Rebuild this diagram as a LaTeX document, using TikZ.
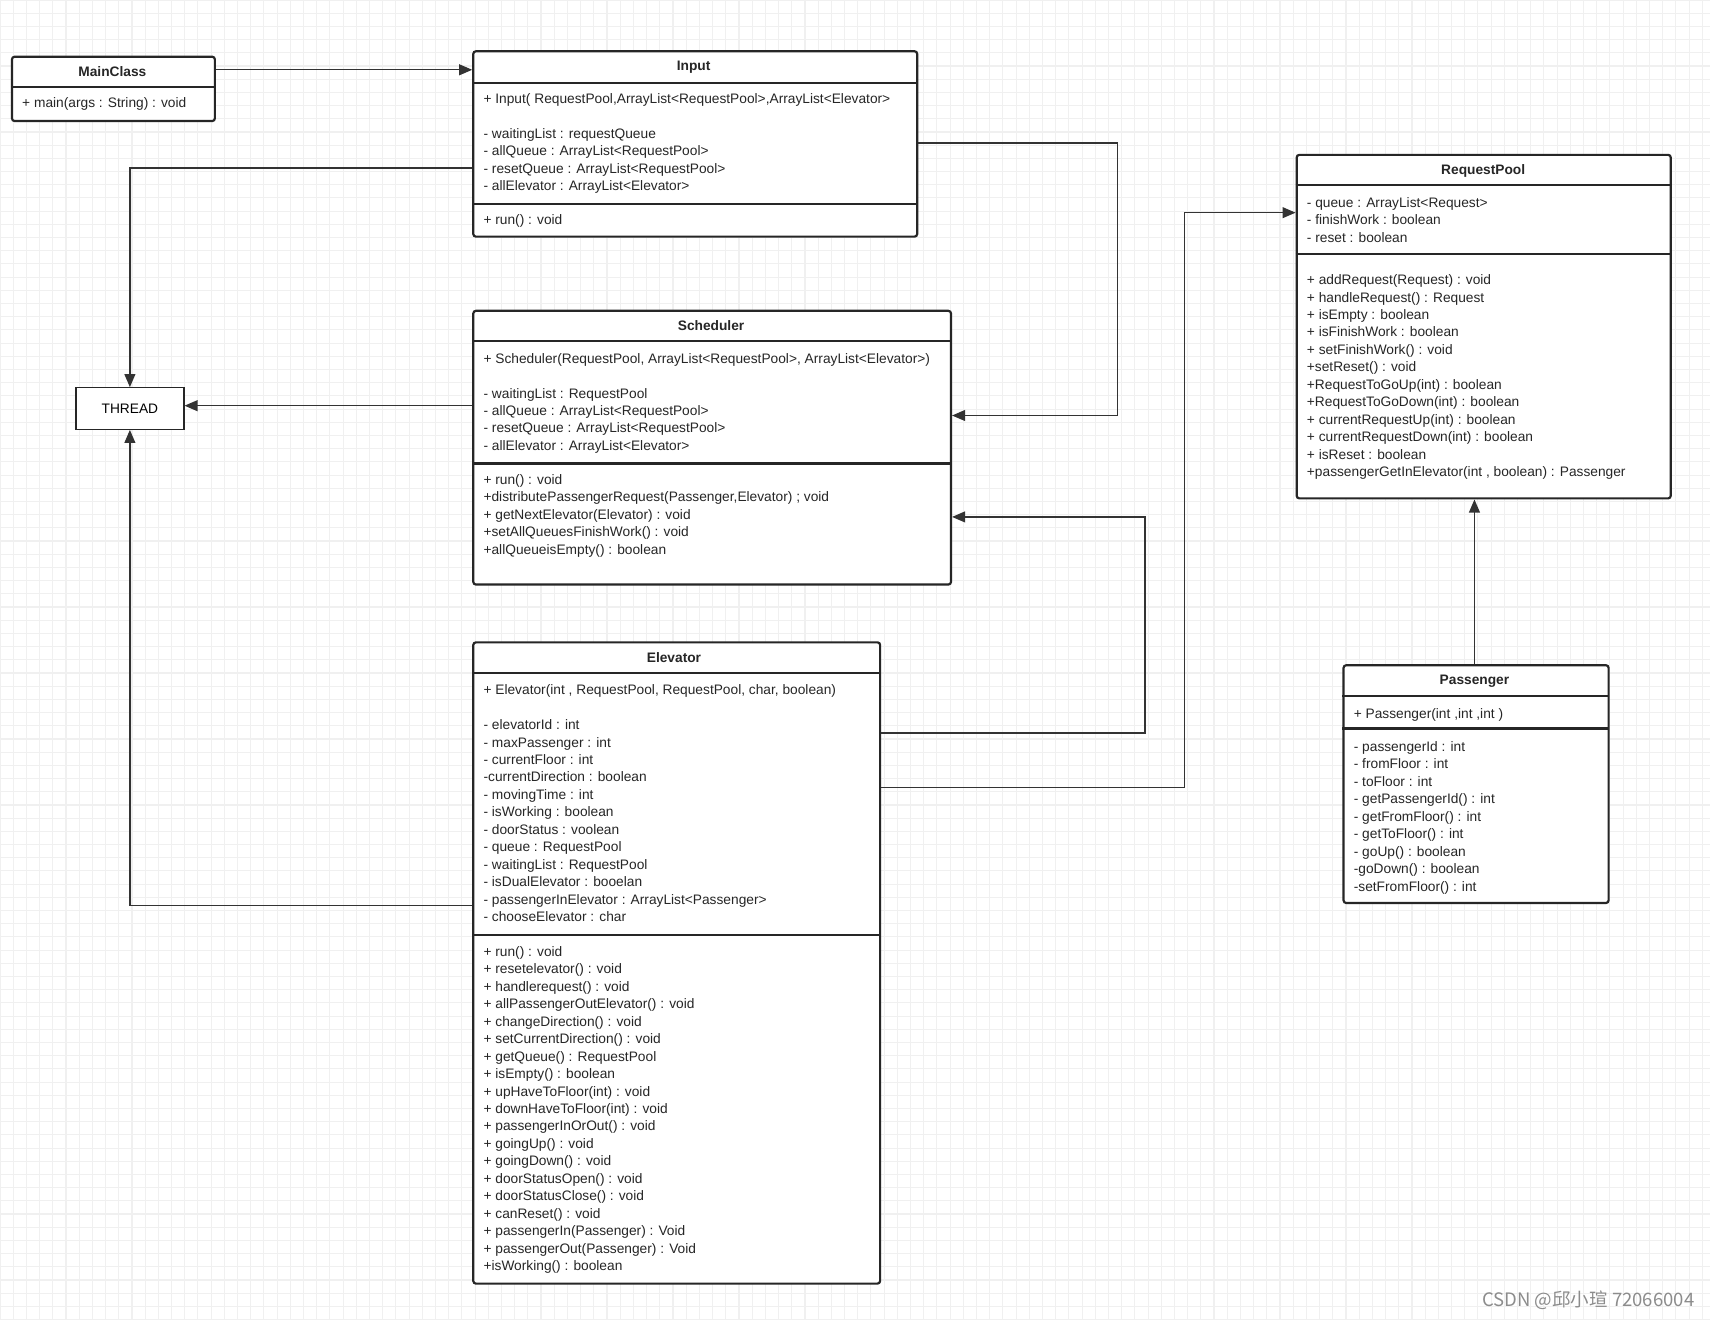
\documentclass[tikz,border=0pt]{standalone}
\usepackage{fontspec}
\setmainfont{Liberation Sans}
\newfontfamily\cjk{Noto Sans CJK SC}
\usetikzlibrary{arrows.meta}
\newcommand\members[3]{\foreach \t [count=\i] in {#3} \node[txt] at (#1, {#2+16*(\i-1)}) {\t};}
\begin{document}
\begin{tikzpicture}[x=0.5pt,y=-0.5pt,
  box/.style={draw=black!85, line width=1pt, rounded corners=1.2pt, anchor=north west, inner sep=0pt, fill=white},
  txt/.style={anchor=base west, inner sep=0pt, font=\fontsize{6.3}{8}\selectfont, text=black!85},
  hdr/.style={font=\fontsize{6.3}{8}\selectfont\bfseries, text=black!85, inner sep=0pt},
  div/.style={draw=black!85, line width=1pt},
  conn/.style={draw=black!80, line width=0.6pt, -{Triangle[length=6pt,width=5pt]}}]
\useasboundingbox (0,0) rectangle (1568,1210);
\fill[white] (0,0) rectangle (1568,1210);
\foreach \k in {0,...,130} {\draw[black!6, line width=0.5pt] ({12.1*\k},0) -- ({12.1*\k},1210);}
\foreach \k in {0,...,100} {\draw[black!6, line width=0.5pt] (0,{12.1*\k}) -- (1568,{12.1*\k});}
% boxes
\node[box, minimum width=93pt, minimum height=29.5pt] (main) at (10,51) {};
\node[box, minimum width=203.5pt, minimum height=85pt] (input) at (433,46) {};
\node[box, minimum width=219pt, minimum height=125.5pt] (sched) at (433,284) {};
\node[box, minimum width=186.5pt, minimum height=294pt] (elev) at (433,588) {};
\node[box, minimum width=171.5pt, minimum height=157.5pt] (pool) at (1188,141) {};
\node[box, minimum width=121.5pt, minimum height=109pt] (pass) at (1231,609) {};
\node[draw=black!85, fill=white, line width=0.6pt, anchor=north west, inner sep=0pt, minimum width=49.5pt, minimum height=19pt, font=\fontsize{6.3}{8}\selectfont] (thread) at (69,355) {THREAD};
% dividers
\draw[div] (10,80) -- (196,80);
\draw[div] (433,76) -- (840,76); \draw[div] (433,187) -- (840,187);
\draw[div] (433,313) -- (871,313); \draw[div] (433,425) -- (871,425);
\draw[div] (433,617) -- (806,617); \draw[div] (433,857) -- (806,857);
\draw[div] (1188,170) -- (1531,170); \draw[div] (1188,233) -- (1531,233);
\draw[div] (1231,638) -- (1474,638); \draw[div] (1231,668) -- (1474,668);
% headers
\node[hdr] (hmain) at (103,66) {MainClass};
\node[hdr] (hinput) at (636,62) {Input};
\node[hdr] (hsched) at (652,299) {Scheduler};
\node[hdr] (helev) at (618,603) {Elevator};
\node[hdr] (hpool) at (1360,157) {RequestPool};
\node[hdr] (hpass) at (1352,625) {Passenger};
% members
\members{20}{99}{{+ main(args : String) : void}}
\members{443}{95}{{+ Input( RequestPool,ArrayList<RequestPool>,ArrayList<Elevator>},{},{- waitingList : requestQueue},{- allQueue : ArrayList<RequestPool>},{- resetQueue : ArrayList<RequestPool>},{- allElevator : ArrayList<Elevator>}}
\members{443}{206}{{+ run() : void}}
\members{443}{333}{{+ Scheduler(RequestPool, ArrayList<RequestPool>, ArrayList<Elevator>)},{},{- waitingList : RequestPool},{- allQueue : ArrayList<RequestPool>},{- resetQueue : ArrayList<RequestPool>},{- allElevator : ArrayList<Elevator>}}
\members{443}{444}{{+ run() : void},{+distributePassengerRequest(Passenger,Elevator) ; void},{+ getNextElevator(Elevator) : void},{+setAllQueuesFinishWork() : void},{+allQueueisEmpty() : boolean}}
\members{443}{637}{{+ Elevator(int , RequestPool, RequestPool, char, boolean)},{},{- elevatorId : int},{- maxPassenger : int},{- currentFloor : int},{-currentDirection : boolean},{- movingTime : int},{- isWorking : boolean},{- doorStatus : voolean},{- queue : RequestPool},{- waitingList : RequestPool},{- isDualElevator : booelan},{- passengerInElevator : ArrayList<Passenger>},{- chooseElevator : char}}
\members{443}{877}{{+ run() : void},{+ resetelevator() : void},{+ handlerequest() : void},{+ allPassengerOutElevator() : void},{+ changeDirection() : void},{+ setCurrentDirection() : void},{+ getQueue() : RequestPool},{+ isEmpty() : boolean},{+ upHaveToFloor(int) : void},{+ downHaveToFloor(int) : void},{+ passengerInOrOut() : void},{+ goingUp() : void},{+ goingDown() : void},{+ doorStatusOpen() : void},{+ doorStatusClose() : void},{+ canReset() : void},{+ passengerIn(Passenger) : Void},{+ passengerOut(Passenger) : Void},{+isWorking() : boolean}}
\members{1198}{190}{{- queue : ArrayList<Request>},{- finishWork : boolean},{- reset : boolean}}
\members{1198}{261}{{+ addRequest(Request) : void},{+ handleRequest() : Request},{+ isEmpty : boolean},{+ isFinishWork : boolean},{+ setFinishWork() : void},{+setReset() : void},{+RequestToGoUp(int) : boolean},{+RequestToGoDown(int) : boolean},{+ currentRequestUp(int) : boolean},{+ currentRequestDown(int) : boolean},{+ isReset : boolean},{+passengerGetInElevator(int , boolean) : Passenger}}
\members{1241}{659}{{+ Passenger(int ,int ,int )}}
\members{1241}{689}{{- passengerId : int},{- fromFloor : int},{- toFloor : int},{- getPassengerId() : int},{- getFromFloor() : int},{- getToFloor() : int},{- goUp() : boolean},{-goDown() : boolean},{-setFromFloor() : int}}
% connectors
\draw[conn] (main.east |- 0,64) -- (input.west |- 0,64);
\draw[conn] (input.west |- 0,154) -| (thread.north);
\draw[conn] (sched.west |- 0,372) -- (thread.east |- 0,372);
\draw[conn] (elev.west |- 0,830) -| (thread.south);
\draw[conn] (input.east |- 0,131) -- (1025,131) -- (1025,381) -- (sched.east |- 0,381);
\draw[conn] (elev.east |- 0,672) -- (1050,672) -- (1050,474) -- (sched.east |- 0,474);
\draw[conn] (elev.east |- 0,722) -- (1086,722) -- (1086,195) -- (pool.west |- 0,195);
\draw[conn] (pass.north -| 1352,0) -- (pool.south -| 1352,0);
\node[anchor=base east, inner sep=0pt, font=\cjk\fontsize{8.5}{10}\selectfont, text=black!45] (wm) at (1554,1198) {CSDN @邱小瑄 72066004};
\end{tikzpicture}
\end{document}
